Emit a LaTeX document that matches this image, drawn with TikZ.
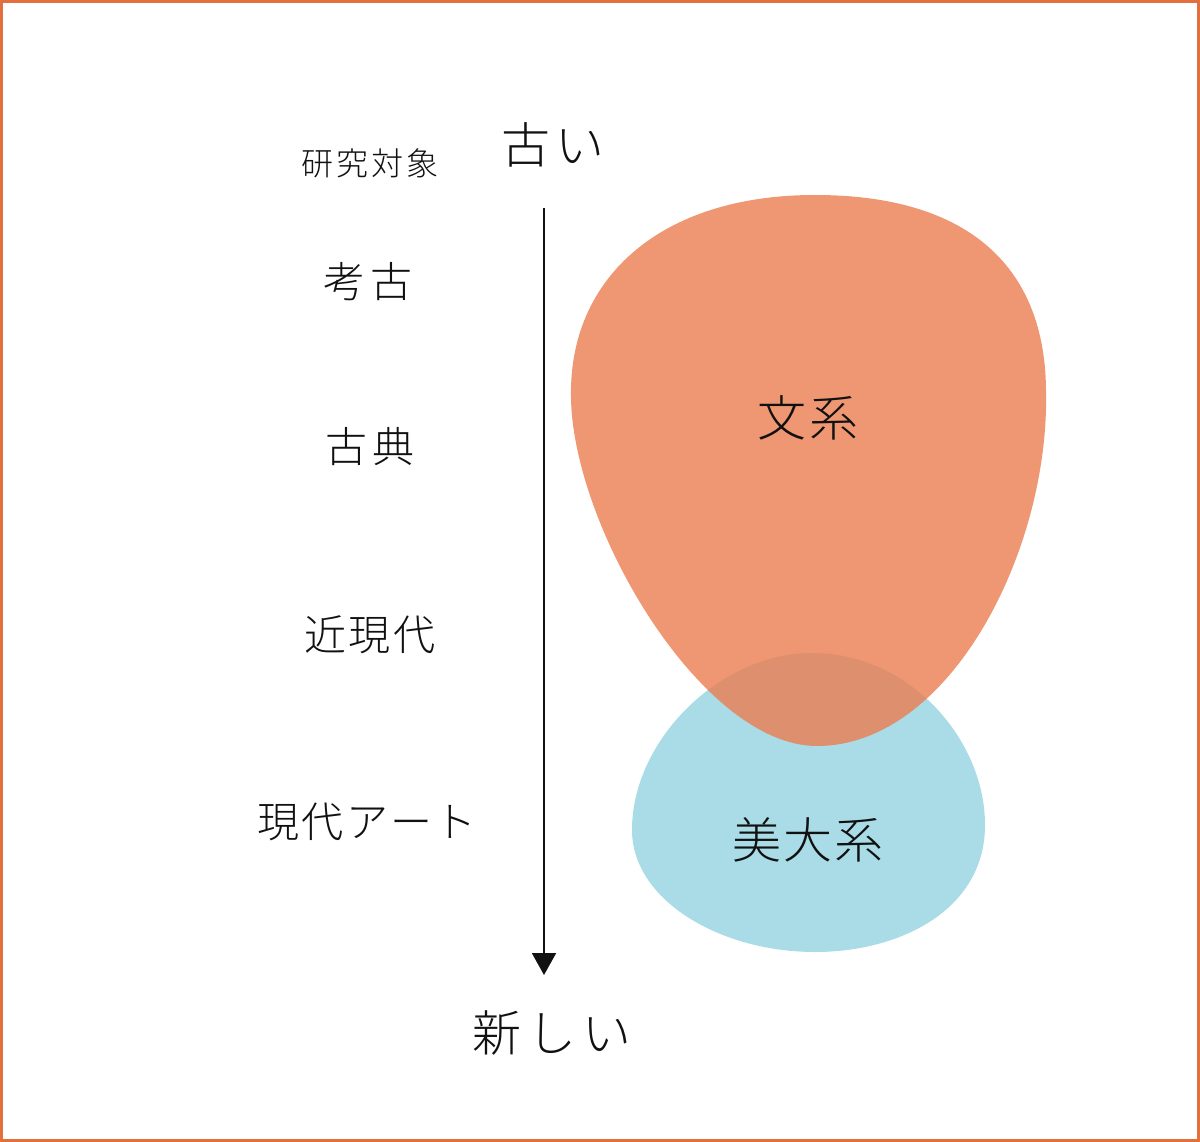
\documentclass[tikz,border=0pt]{standalone}
\usepackage{fontspec}
\newfontfamily\jp[UprightFont={* Light}]{Noto Sans CJK JP}
\usetikzlibrary{arrows.meta}
\definecolor{frameor}{HTML}{E2703C}
\definecolor{bunkei}{HTML}{EC7C4F}
\definecolor{bidai}{HTML}{A9DCE6}
\definecolor{ink}{HTML}{111111}
\begin{document}
\begin{tikzpicture}[x=1pt,y=-1pt,
  lbl/.style={text=ink, inner sep=0pt, anchor=center},
  fsmall/.style={lbl, font=\jp\fontsize{32}{32}\selectfont},
  fmid/.style={lbl, font=\jp\fontsize{42}{42}\selectfont},
  fbig/.style={lbl, font=\jp\fontsize{49}{49}\selectfont},
  axis/.style={draw=ink, line width=2pt, -{Triangle[length=22pt,width=24pt]}}]
\useasboundingbox (0,0) rectangle (1200,1142);
\fill[white] (0,0) rectangle (1200,1142);
\draw[frameor, line width=3pt] (1.5,1.5) rectangle (1198.5,1140.5);
% blue blob (美大系)
\fill[bidai] (812,653) .. controls (910,653) and (985,740) .. (985,825)
  .. controls (985,910) and (900,952) .. (815,952)
  .. controls (720,952) and (632,900) .. (632,830)
  .. controls (632,740) and (720,653) .. (812,653) -- cycle;
% orange blob (文系)
\fill[bunkei, fill opacity=0.8] (815,195) .. controls (970,195) and (1045,268) .. (1046,390)
  .. controls (1050,550) and (950,746) .. (817,746)
  .. controls (700,746) and (568,520) .. (571,390)
  .. controls (572,278) and (660,195) .. (815,195) -- cycle;
% axis
\coordinate (arrS) at (544,208);
\coordinate (arrE) at (544,975);
\draw[axis] (arrS) -- (arrE);
% labels
\node[fsmall] (taisho) at (370,163) {研\kern3pt 究\kern3pt 対\kern3pt 象};
\node[fbig] (furui) at (553,145) {古\kern6pt い};
\node[fmid] (koko) at (368,282) {考\kern6pt 古};
\node[fmid] (koten) at (370,447) {古\kern6pt 典};
\node[fmid] (kingendai) at (370,635) {近\kern3pt 現\kern3pt 代};
\node[fmid] (gendaiart) at (367,822) {現\kern2.5pt 代\kern2.5pt ア\kern2.5pt ー\kern2.5pt ト};
\node[fbig] (atarashii) at (552,1033) {新\kern6pt し\kern6pt い};
\node[fbig] (bunkeilbl) at (808,418) {文\kern3pt 系};
\node[fbig] (bidailbl) at (808,840) {美\kern2pt 大\kern2pt 系};
\end{tikzpicture}
\end{document}
